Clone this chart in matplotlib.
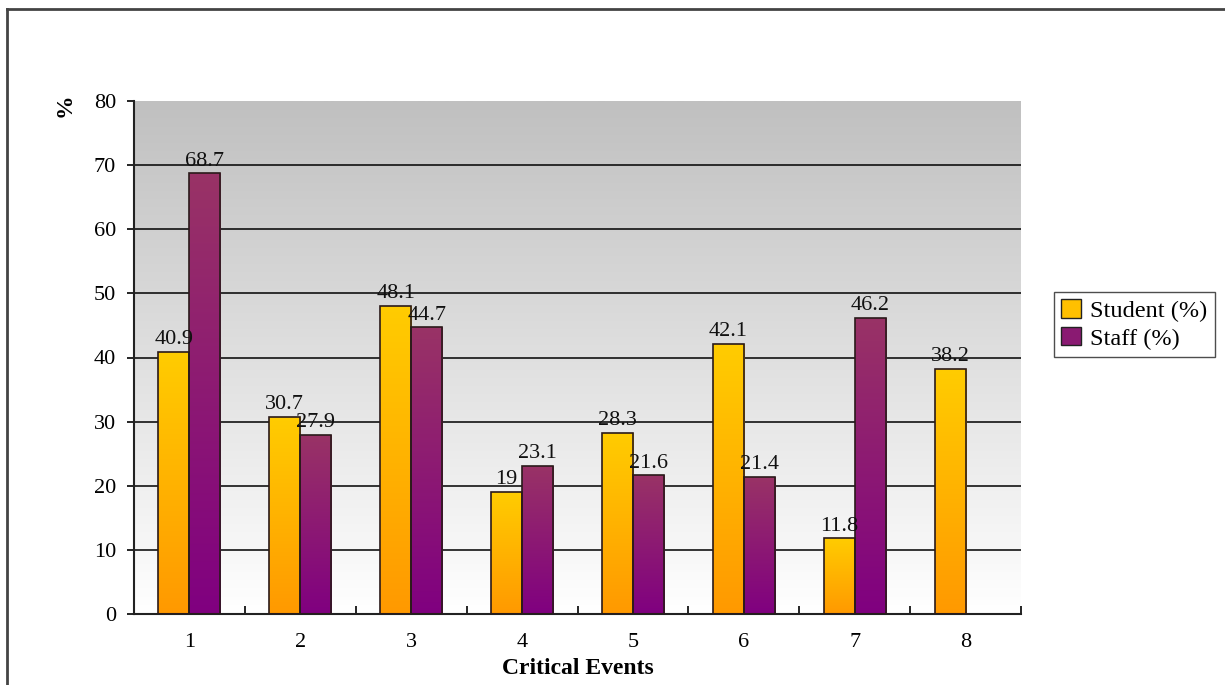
import numpy as np
import matplotlib.pyplot as plt
from matplotlib.colors import LinearSegmentedColormap
from matplotlib.lines import Line2D
from matplotlib.patches import Patch

plt.rcParams['font.family'] = ['Liberation Serif', 'DejaVu Serif']

# chart data
events = [1, 2, 3, 4, 5, 6, 7, 8]
student = [40.9, 30.7, 48.1, 19, 28.3, 42.1, 11.8, 38.2]
staff = [68.7, 27.9, 44.7, 23.1, 21.6, 21.4, 46.2, None]
yticks = [0, 10, 20, 30, 40, 50, 60, 70, 80]

fig = plt.figure(figsize=(12.25, 6.85), dpi=100)
ax = fig.add_axes([134 / 1225, 1 - 614 / 685, 887 / 1225, 513 / 685])

# plot area background: grey at top fading to white
bg = LinearSegmentedColormap.from_list('bg', ['#ffffff', '#c0c0c0'])
grad = np.linspace(0, 1, 256).reshape(-1, 1)
ax.imshow(grad, cmap=bg, origin='lower', aspect='auto',
          extent=[0.5, 8.5, 0, 80], zorder=0)

stud_cmap = LinearSegmentedColormap.from_list('stud', ['#ff9900', '#ffcc00'])
staff_cmap = LinearSegmentedColormap.from_list('staff', ['#800080', '#993366'])

w = 0.28
x = np.array(events, dtype=float)


def gradient_bars(xs, vals, cmap):
    bars = ax.bar(xs, vals, width=w, facecolor='none', edgecolor='#2a1a1a',
                  linewidth=1.2, zorder=3)
    for b in bars:
        x0, y0 = b.get_x(), b.get_y()
        im = ax.imshow(grad, cmap=cmap, origin='lower', aspect='auto',
                       extent=[x0, x0 + b.get_width(), y0, y0 + b.get_height()],
                       zorder=2)
        im.set_clip_path(b)
        ax.annotate(f"{b.get_height():g}", (x0 + b.get_width() / 2, y0 + b.get_height()),
                    xytext=(0, 2), textcoords='offset points', ha='center', va='bottom',
                    fontsize=16, color='#111111', zorder=4)
    return bars


gradient_bars(x - w / 2, student, stud_cmap)
sx = [xi + w / 2 for xi, v in zip(x, staff) if v is not None]
sv = [v for v in staff if v is not None]
gradient_bars(sx, sv, staff_cmap)

# horizontal gridlines
for t in yticks[1:-1]:
    ax.axhline(t, color='black', linewidth=1.1, zorder=1)

ax.set_xlim(0.5, 8.5)
ax.set_ylim(0, 80)
ax.set_yticks(yticks)
ax.tick_params(axis='y', labelsize=16, length=5, width=1.2, direction='out', pad=8)

# ticks at category boundaries, labels at centres
ax.set_xticks(np.arange(1.5, 9, 1))
ax.set_xticks(x, minor=True)
ax.set_xticklabels(events, minor=True)
ax.set_xticklabels([])
ax.tick_params(axis='x', which='major', direction='in', length=6, width=1.2)
ax.tick_params(axis='x', which='minor', length=0, labelsize=16, pad=14)

for s in ['top', 'right']:
    ax.spines[s].set_visible(False)
for s in ['left', 'bottom']:
    ax.spines[s].set_linewidth(1.5)
    ax.spines[s].set_color('#222222')

ax.set_xlabel('Critical Events', fontsize=17, fontweight='bold', labelpad=4)
fig.text(65 / 1225, 1 - 105 / 685, '%', rotation=90, fontsize=17,
         fontweight='bold', ha='center', va='center')

handles = [Patch(facecolor='#ffc000', edgecolor='#222222', label='Student (%)'),
           Patch(facecolor='#8a1a72', edgecolor='#222222', label='Staff (%)')]
fig.legend(handles=handles, loc='upper left', bbox_to_anchor=(1054 / 1225, 1 - 292 / 685),
           fontsize=17.5, frameon=True, fancybox=False, edgecolor='#222222',
           handlelength=0.8, handleheight=0.8, handletextpad=0.4,
           borderpad=0.3, labelspacing=0.2, borderaxespad=0)

# outer frame (left and top only)
fig.add_artist(Line2D([7 / 1225, 7 / 1225], [0, 1 - 9 / 685], color='#444444', linewidth=2))
fig.add_artist(Line2D([7 / 1225, 1], [1 - 9 / 685, 1 - 9 / 685], color='#444444', linewidth=2))

fig.savefig('out.png', dpi=100)
